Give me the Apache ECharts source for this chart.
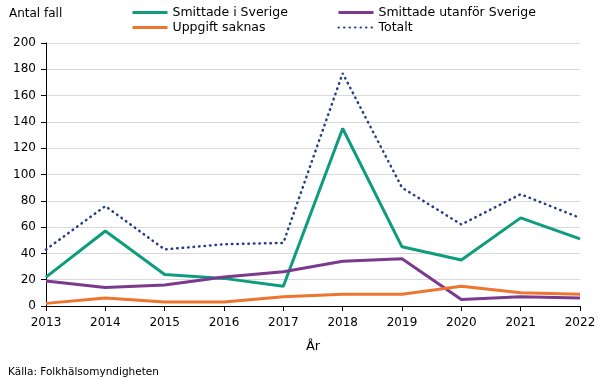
<!DOCTYPE html>
<html><head><meta charset="utf-8">
<script src="https://cdn.jsdelivr.net/npm/echarts@6/dist/echarts.min.js"></script>
<style>html,body{margin:0;padding:0;background:#fff}#c{width:605px;height:379px}</style>
</head><body><div id="c"></div>
<script>
var years = ['2013','2014','2015','2016','2017','2018','2019','2020','2021','2022'];
var smittadeSverige = [22, 57, 24, 21, 15, 135, 45, 35, 67, 51];
var smittadeUtanfor = [19, 14, 16, 22, 26, 34, 36, 5, 7, 6];
var uppgiftSaknas = [2, 6, 3, 3, 7, 9, 9, 15, 10, 9];
var totalt = [43, 76, 43, 47, 48, 177, 90, 62, 85, 67];
var yTicks = [0, 20, 40, 60, 80, 100, 120, 140, 160, 180, 200];

var FONT = 'DejaVu Sans';
var chart = echarts.init(document.getElementById('c'), null, {renderer: 'canvas'});
function mk(name, data, color, width, type) {
  return {name: name, type: 'line', data: data, symbol: 'none', showSymbol: false,
    lineStyle: {color: color, width: width, type: type || 'solid', cap: type ? 'round' : 'butt'},
    itemStyle: {color: color}, animation: false};
}
var legendCommon = {orient: 'vertical', itemWidth: 35, itemHeight: 14, itemGap: 2, padding: 0,
  itemStyle: {opacity: 0},
  textStyle: {fontFamily: FONT, fontSize: 12.5, color: '#000'}};
chart.setOption({
  backgroundColor: '#fff',
  textStyle: {fontFamily: FONT},
  title: [
    {text: 'Antal fall', left: 9, top: 8, padding: 0, textStyle: {fontFamily: FONT, fontSize: 12, fontWeight: 'normal', color: '#000'}},
    {text: 'Källa: Folkhälsomyndigheten', left: 8, top: 367, padding: 0, textStyle: {fontFamily: FONT, fontSize: 10.5, fontWeight: 'normal', color: '#000'}}
  ],
  legend: [
    Object.assign({left: 131, top: 6, data: [
      {name: 'Smittade i Sverige', lineStyle: {width: 3}},
      {name: 'Uppgift saknas', lineStyle: {width: 3}}]}, legendCommon),
    Object.assign({left: 337, top: 6, data: [
      {name: 'Smittade utanför Sverige', lineStyle: {width: 3}},
      {name: 'Totalt'}]}, legendCommon)
  ],
  grid: {left: 46, right: 25, top: 43, bottom: 73, containLabel: false},
  xAxis: {
    type: 'category', data: years, boundaryGap: false,
    axisLine: {lineStyle: {color: '#000', width: 1}},
    axisTick: {show: true, length: 5, alignWithLabel: true, lineStyle: {color: '#000'}},
    axisLabel: {fontFamily: FONT, fontSize: 12, color: '#000', margin: 11},
    name: 'År', nameLocation: 'middle', nameGap: 34,
    nameTextStyle: {fontFamily: FONT, fontSize: 13, color: '#000'}
  },
  yAxis: {
    type: 'value', min: yTicks[0], max: yTicks[yTicks.length-1], interval: yTicks[1]-yTicks[0],
    axisLine: {show: true, lineStyle: {color: '#000', width: 1}},
    axisTick: {show: true, length: 5, lineStyle: {color: '#000'}},
    axisLabel: {fontFamily: FONT, fontSize: 12, color: '#000', margin: 10},
    splitLine: {show: true, lineStyle: {color: '#D9D9D9', width: 1}}
  },
  series: [
    mk('Smittade i Sverige', smittadeSverige, '#0E9C7D', 3),
    mk('Smittade utanför Sverige', smittadeUtanfor, '#7B3A8D', 3),
    mk('Uppgift saknas', uppgiftSaknas, '#EE7530', 3),
    mk('Totalt', totalt, '#253C8C', 2.5, [0.5, 5])
  ]
});
</script></body></html>
